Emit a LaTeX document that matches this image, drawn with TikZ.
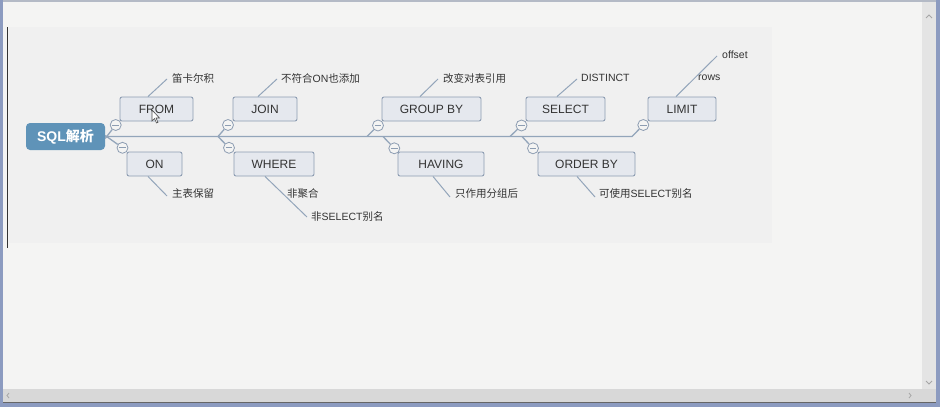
\documentclass[tikz,border=0pt]{standalone}
\usepackage{fontspec}
\setmainfont{Liberation Sans}
\newfontfamily\cjk{Noto Sans CJK SC}
\definecolor{winbg}{HTML}{F4F4F3}
\definecolor{canvasbg}{HTML}{F0F0F0}
\definecolor{frameblue}{HTML}{8C9BC0}
\definecolor{framegray}{HTML}{B4BAC6}
\definecolor{scrollbg}{HTML}{E4E4E4}
\definecolor{rootfill}{HTML}{5F93B8}
\definecolor{boxfill}{HTML}{E5E8EE}
\definecolor{boxline}{HTML}{8D9DB2}
\definecolor{brline}{HTML}{93A5BA}
\definecolor{txt}{HTML}{333333}
\tikzset{
  topic/.style={rectangle, rounded corners=2pt, draw=boxline, line width=0.9pt, fill=boxfill,
    minimum height=24pt, inner sep=0pt, text=txt, font=\fontsize{12}{14}\selectfont},
  rootbox/.style={rectangle, rounded corners=4pt, fill=rootfill, minimum width=79pt,
    minimum height=27pt, inner sep=0pt, text=white, font=\fontsize{14}{16}\selectfont\bfseries},
  collapse/.style={circle, draw=boxline, line width=0.8pt, fill=winbg, minimum size=11pt, inner sep=0pt,
    path picture={\draw[boxline, line width=0.9pt] ([xshift=-3.4pt]path picture bounding box.center) -- ([xshift=3.4pt]path picture bounding box.center);}},
  br/.style={draw=brline, line width=1.3pt},
  leaf/.style={draw=brline, line width=1pt},
  lbl/.style={anchor=west, inner sep=0pt, text=txt, font=\fontsize{10.5}{12}\selectfont},
}
\begin{document}
\begin{tikzpicture}[x=1pt, y=-1pt]
\useasboundingbox (0,0) rectangle (940,407);
% window
\fill[winbg] (0,0) rectangle (940,407);
\fill[canvasbg] (9,27) rectangle (772,243);
\draw[black!80, line width=1.2pt] (7.5,27) -- (7.5,248);
\fill[scrollbg] (922,2) rectangle (936,389);
\fill[scrollbg!95!black] (3,389) rectangle (936,402);
\draw[black!35, line width=0.8pt] (926,18) -- (929,15) -- (932,18);
\draw[black!35, line width=0.8pt] (926,381) -- (929,384) -- (932,381);
\draw[black!35, line width=0.8pt] (9,393) -- (7,395.5) -- (9,398);
\draw[black!35, line width=0.8pt] (909,393) -- (911,395.5) -- (909,398);
\fill[framegray] (0,0) rectangle (940,2);
\fill[frameblue] (0,0) rectangle (3,407);
\fill[frameblue] (936,0) rectangle (940,407);
\fill[frameblue] (0,402) rectangle (940,407);
\draw[black!60, line width=0.8pt] (3,402.5) -- (936,402.5);

% root
\node[rootbox] (root) at (65.5,136.5) {SQL{\cjk 解析}};

% topics
\node[topic, minimum width=73pt] (from) at (156.5,109) {FROM};
\node[topic, minimum width=64pt] (join) at (265,109) {JOIN};
\node[topic, minimum width=99pt] (group) at (431.5,109) {GROUP BY};
\node[topic, minimum width=79pt] (select) at (565.5,109) {SELECT};
\node[topic, minimum width=68pt] (limit) at (682,109) {LIMIT};
\node[topic, minimum width=55pt] (on) at (154.5,164) {ON};
\node[topic, minimum width=80pt] (where) at (274,164) {WHERE};
\node[topic, minimum width=86pt] (having) at (441,164) {HAVING};
\node[topic, minimum width=97pt] (order) at (586.5,164) {ORDER BY};

% collapse buttons
\node[collapse] (cfrom) at (115.7,125) {};
\node[collapse] (con) at (122.5,147.8) {};
\node[collapse] (cjoin) at (228,125) {};
\node[collapse] (cwhere) at (229,147.8) {};
\node[collapse] (cgroup) at (378,125.5) {};
\node[collapse] (chaving) at (394.3,148.3) {};
\node[collapse] (cselect) at (521.5,125.5) {};
\node[collapse] (corder) at (533,148.3) {};
\node[collapse] (climit) at (643.3,125) {};

% spine
\coordinate (b1) at (218,136.5);
\coordinate (b2u) at (367,136.5);
\coordinate (b2d) at (383,136.5);
\coordinate (b3u) at (510,136.5);
\coordinate (b3d) at (522,136.5);
\coordinate (b4) at (632,136.5);
\draw[br] (root.east) -- (b4) -- (climit);
\draw[br] ([yshift=-2pt]root.east) -- (cfrom);
\draw[br] ([yshift=1pt]root.east) -- (con);
\draw[br] (b1) -- (cjoin);
\draw[br] (b1) -- (cwhere);
\draw[br] (b2u) -- (cgroup);
\draw[br] (b2d) -- (chaving);
\draw[br] (b3u) -- (cselect);
\draw[br] (b3d) -- (corder);

% leaf labels
\node[lbl] (l1) at (172,78) {\cjk 笛卡尔积};
\node[lbl] (l2) at (281,78) {{\cjk 不符合}ON{\cjk 也添加}};
\node[lbl] (l3) at (443,78) {\cjk 改变对表引用};
\node[lbl] (l4) at (581,78) {DISTINCT};
\node[lbl] (l5) at (722,55) {offset};
\node[lbl] (l6) at (698,78) {rows};
\node[lbl] (l7) at (172,194) {\cjk 主表保留};
\node[lbl] (l8) at (287,194) {\cjk 非聚合};
\node[lbl] (l9) at (311,217) {{\cjk 非}SELECT{\cjk 别名}};
\node[lbl] (l10) at (455,194) {\cjk 只作用分组后};
\node[lbl] (l11) at (599,194) {{\cjk 可使用}SELECT{\cjk 别名}};

\coordinate (e1) at (167,79);
\coordinate (e2) at (277,79);
\coordinate (e3) at (438,79);
\coordinate (e4) at (577,79);
\coordinate (e5) at (717,56);
\coordinate (e7) at (167,196);
\coordinate (e9) at (307,217);
\coordinate (e10) at (450,197);
\coordinate (e11) at (595,197);
\draw[leaf] ([xshift=-8.5pt]from.north) -- (e1);
\draw[leaf] ([xshift=-7pt]join.north) -- (e2);
\draw[leaf] ([xshift=-11.5pt]group.north) -- (e3);
\draw[leaf] ([xshift=-8.5pt]select.north) -- (e4);
\draw[leaf] ([xshift=-6pt]limit.north) -- (e5);
\draw[leaf] ([xshift=-6.5pt]on.south) -- (e7);
\draw[leaf] ([xshift=-9pt]where.south) -- (e9);
\draw[leaf] ([xshift=-8pt]having.south) -- (e10);
\draw[leaf] ([xshift=-9.5pt]order.south) -- (e11);

% mouse pointer
\draw[black!70, fill=white, line width=0.6pt] (152,110) -- (152,121) -- (154.5,118.5) -- (156.5,123) -- (158,122.3) -- (156,118) -- (159.5,118) -- cycle;
\end{tikzpicture}
\end{document}
